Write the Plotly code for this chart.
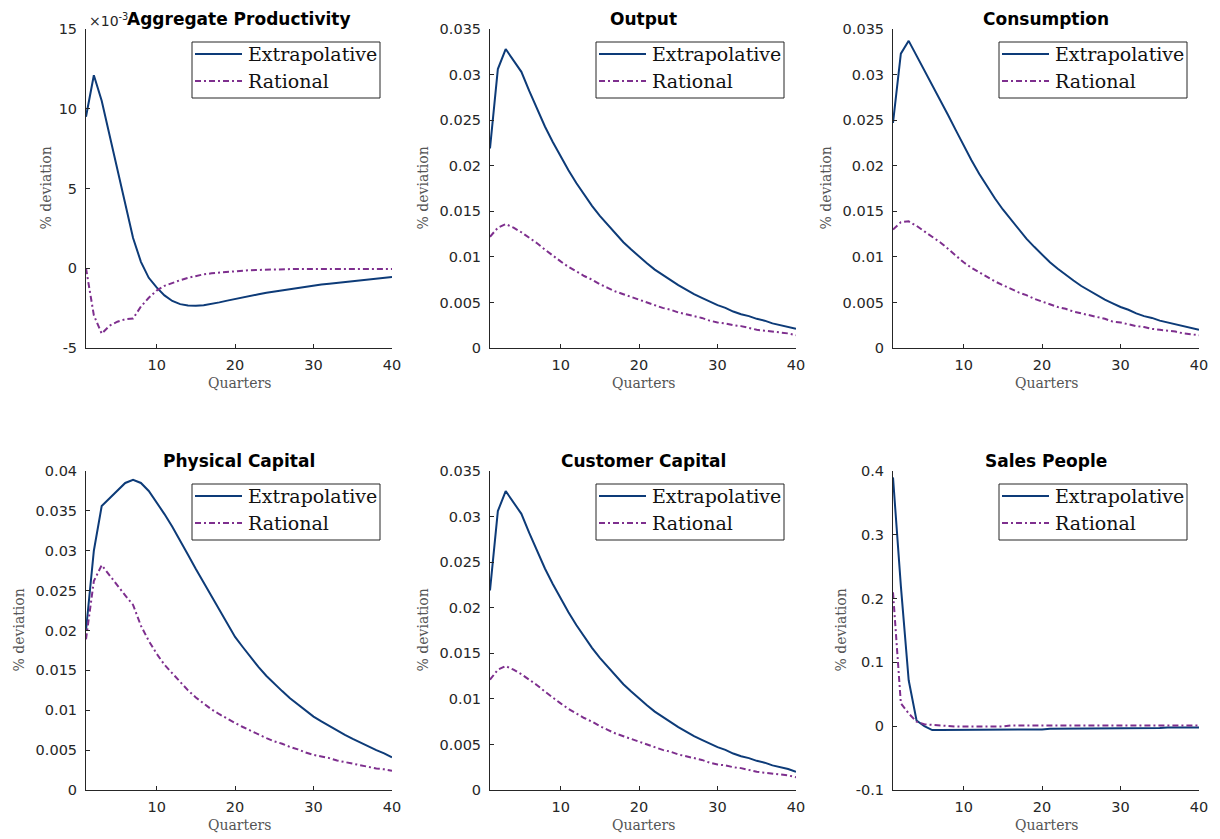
import plotly.graph_objects as go

# ---------------- data ----------------
quarters = list(range(1, 41))

titles = ["Aggregate Productivity", "Output", "Consumption",
          "Physical Capital", "Customer Capital", "Sales People"]
series_names = ["Extrapolative", "Rational"]

# Aggregate productivity, in units of 1e-3
prod_extrap = [9.5, 12.1, 10.5, 8.4, 6.2, 4.0, 1.9, 0.4, -0.6, -1.2,
               -1.7, -2.05, -2.25, -2.33, -2.35, -2.32, -2.24, -2.14, -2.03, -1.92,
               -1.82, -1.72, -1.63, -1.54, -1.46, -1.38, -1.31, -1.24, -1.17, -1.08,
               -1.02, -0.97, -0.92, -0.86, -0.81, -0.76, -0.71, -0.66, -0.6, -0.55]
prod_rational = [0.0, -2.95, -4.1, -3.6, -3.35, -3.2, -3.15, -2.4, -1.85, -1.4,
                 -1.1, -0.9, -0.75, -0.6, -0.48, -0.38, -0.32, -0.27, -0.22, -0.18,
                 -0.15, -0.12, -0.1, -0.08, -0.06, -0.05, -0.04, -0.04, -0.04, -0.04,
                 -0.04, -0.04, -0.04, -0.04, -0.04, -0.04, -0.04, -0.04, -0.04, -0.04]

output_extrap = [0.0219, 0.0306, 0.0328, 0.0316, 0.0303, 0.0282, 0.0262, 0.0243, 0.0226, 0.0210,
                 0.0195, 0.0181, 0.0168, 0.0156, 0.0145, 0.0135, 0.0125, 0.0116, 0.0108, 0.0100,
                 0.0093, 0.0086, 0.0080, 0.0074, 0.0069, 0.0064, 0.0059, 0.0055, 0.0051, 0.0047,
                 0.0044, 0.0040, 0.0037, 0.0035, 0.0032, 0.0030, 0.0027, 0.0025, 0.0023, 0.0021]
output_rational = [0.0122, 0.0132, 0.0136, 0.0132, 0.0127, 0.0121, 0.0115, 0.0108, 0.0101, 0.0095,
                   0.0089, 0.0084, 0.0079, 0.0075, 0.0070, 0.0066, 0.0062, 0.0059, 0.0056, 0.0053,
                   0.0050, 0.0047, 0.0044, 0.0042, 0.0039, 0.0037, 0.0035, 0.0033, 0.0030, 0.0028,
                   0.0027, 0.0025, 0.0024, 0.0022, 0.0020, 0.0019, 0.0018, 0.0017, 0.0016, 0.0014]

cons_extrap = [0.0247, 0.0323, 0.0337, 0.0321, 0.0305, 0.0289, 0.0272, 0.0256, 0.0239, 0.0222,
               0.0206, 0.0191, 0.0177, 0.0164, 0.0152, 0.0141, 0.0130, 0.0120, 0.0111, 0.0102,
               0.0094, 0.0087, 0.0080, 0.0074, 0.0068, 0.0063, 0.0058, 0.0053, 0.0049, 0.0045,
               0.0042, 0.0038, 0.0035, 0.0033, 0.0030, 0.0028, 0.0026, 0.0024, 0.0022, 0.0020]
cons_rational = [0.0130, 0.0138, 0.0139, 0.0134, 0.0128, 0.0122, 0.0116, 0.0109, 0.0101, 0.0094,
                 0.0088, 0.0083, 0.0078, 0.0073, 0.0069, 0.0065, 0.0061, 0.0058, 0.0054, 0.0051,
                 0.0048, 0.0045, 0.0043, 0.0040, 0.0038, 0.0036, 0.0034, 0.0032, 0.0029, 0.0028,
                 0.0026, 0.0024, 0.0023, 0.0021, 0.0020, 0.0019, 0.0018, 0.0016, 0.0015, 0.0014]

phys_extrap = [0.0200, 0.0300, 0.0356, 0.0366, 0.0376, 0.0385, 0.0389, 0.0385, 0.0375, 0.0361,
               0.0346, 0.0330, 0.0313, 0.0295, 0.0277, 0.0260, 0.0242, 0.0225, 0.0208, 0.0192,
               0.0179, 0.0166, 0.0154, 0.0143, 0.0133, 0.0124, 0.0115, 0.0107, 0.0099, 0.0092,
               0.0086, 0.0080, 0.0074, 0.0069, 0.0064, 0.0059, 0.0055, 0.0050, 0.0046, 0.0041]
phys_rational = [0.0189, 0.0262, 0.0282, 0.0269, 0.0256, 0.0244, 0.0232, 0.0206, 0.0187, 0.0171,
                 0.0157, 0.0146, 0.0135, 0.0125, 0.0116, 0.0108, 0.0101, 0.0095, 0.0089, 0.0084,
                 0.0079, 0.0074, 0.0069, 0.0065, 0.0061, 0.0058, 0.0054, 0.0051, 0.0047, 0.0044,
                 0.0042, 0.0040, 0.0037, 0.0035, 0.0033, 0.0031, 0.0029, 0.0027, 0.0026, 0.0024]

cust_extrap = [0.0219, 0.0306, 0.0328, 0.0316, 0.0303, 0.0282, 0.0262, 0.0243, 0.0226, 0.0210,
               0.0195, 0.0181, 0.0168, 0.0156, 0.0145, 0.0135, 0.0125, 0.0116, 0.0108, 0.0100,
               0.0093, 0.0086, 0.0080, 0.0074, 0.0069, 0.0064, 0.0059, 0.0055, 0.0051, 0.0047,
               0.0044, 0.0040, 0.0037, 0.0035, 0.0032, 0.0030, 0.0027, 0.0025, 0.0023, 0.0020]
cust_rational = [0.0121, 0.0132, 0.0136, 0.0132, 0.0127, 0.0121, 0.0115, 0.0108, 0.0101, 0.0095,
                 0.0089, 0.0084, 0.0079, 0.0075, 0.0070, 0.0066, 0.0062, 0.0059, 0.0056, 0.0053,
                 0.0050, 0.0047, 0.0044, 0.0042, 0.0039, 0.0037, 0.0035, 0.0033, 0.0030, 0.0028,
                 0.0027, 0.0025, 0.0024, 0.0022, 0.0020, 0.0019, 0.0018, 0.0017, 0.0016, 0.0014]

sales_extrap = [0.390, 0.220, 0.072, 0.009, 0.000, -0.006, -0.006, -0.006, -0.006, -0.006,
                -0.006, -0.006, -0.006, -0.006, -0.006, -0.005, -0.005, -0.005, -0.005, -0.005,
                -0.004, -0.004, -0.004, -0.004, -0.004, -0.004, -0.004, -0.004, -0.003, -0.003,
                -0.003, -0.003, -0.003, -0.003, -0.003, -0.002, -0.002, -0.002, -0.002, -0.002]
sales_rational = [0.210, 0.036, 0.020, 0.007, 0.003, 0.002, 0.001, -0.0005, -0.0005, -0.0005,
                  -0.0005, -0.0005, -0.0005, -0.0005, -0.0005, 0.001, 0.001, 0.001, 0.001, 0.001,
                  0.001, 0.001, 0.001, 0.001, 0.001, 0.001, 0.001, 0.001, 0.001, 0.001,
                  0.001, 0.001, 0.001, 0.001, 0.001, 0.001, 0.001, 0.001, 0.001, 0.001]

x_ticks = [10, 20, 30, 40]
y_ticks = [
    [-5, 0, 5, 10, 15],
    [0, 0.005, 0.01, 0.015, 0.02, 0.025, 0.03, 0.035],
    [0, 0.005, 0.01, 0.015, 0.02, 0.025, 0.03, 0.035],
    [0, 0.005, 0.01, 0.015, 0.02, 0.025, 0.03, 0.035, 0.04],
    [0, 0.005, 0.01, 0.015, 0.02, 0.025, 0.03, 0.035],
    [-0.1, 0, 0.1, 0.2, 0.3, 0.4],
]
y_tick_text = [
    ["-5", "0", "5", "10", "15"],
    ["0", "0.005", "0.01", "0.015", "0.02", "0.025", "0.03", "0.035"],
    ["0", "0.005", "0.01", "0.015", "0.02", "0.025", "0.03", "0.035"],
    ["0", "0.005", "0.01", "0.015", "0.02", "0.025", "0.03", "0.035", "0.04"],
    ["0", "0.005", "0.01", "0.015", "0.02", "0.025", "0.03", "0.035"],
    ["-0.1", "0", "0.1", "0.2", "0.3", "0.4"],
]
y_ranges = [[-5, 15], [0, 0.035], [0, 0.035], [0, 0.04], [0, 0.035], [-0.1, 0.4]]

extrap_series = [prod_extrap, output_extrap, cons_extrap, phys_extrap, cust_extrap, sales_extrap]
rational_series = [prod_rational, output_rational, cons_rational, phys_rational, cust_rational, sales_rational]

# ---------------- layout geometry (page pixels) ----------------
PAGE_W, PAGE_H = 1220, 839
OFF = 8                       # default page body margin around the plot div
W, H = PAGE_W - OFF, PAGE_H - OFF
col_px = [(86, 392), (490, 796), (893, 1199)]
row_px = [(29, 348), (471, 790)]
ylabel_x_px = [45, 422, 825, 18, 422, 840]

BLUE = "#0d3b78"
PURPLE = "#7e2f8e"
AX = "#262626"
DASH = "6px,3px,2px,3px"


def px(xp):
    return (xp - OFF) / W


def py(yp):
    return 1 - (yp - OFF) / H


fig = go.Figure()
layout = dict(
    width=W, height=H,
    margin=dict(l=0, r=0, t=0, b=0, autoexpand=False),
    paper_bgcolor="white", plot_bgcolor="white",
    font=dict(family="DejaVu Sans", size=14, color=AX),
    showlegend=False,
)
annotations = []
shapes = []

for i in range(6):
    r, c = divmod(i, 3)
    x0, x1 = col_px[c]
    y0, y1 = row_px[r]
    sfx = "" if i == 0 else str(i + 1)
    xa, ya = "x" + sfx, "y" + sfx

    fig.add_trace(go.Scatter(x=quarters, y=extrap_series[i], mode="lines",
                             name=series_names[0], xaxis=xa, yaxis=ya,
                             line=dict(color=BLUE, width=2)))
    fig.add_trace(go.Scatter(x=quarters, y=rational_series[i], mode="lines",
                             name=series_names[1], xaxis=xa, yaxis=ya,
                             line=dict(color=PURPLE, width=2, dash=DASH)))

    layout["xaxis" + sfx] = dict(
        domain=[px(x0), px(x1)], anchor=ya, range=[1, 40],
        tickvals=x_ticks, ticktext=[str(v) for v in x_ticks],
        ticks="inside", ticklen=4, tickcolor=AX, tickwidth=1,
        showline=True, linecolor=AX, linewidth=1, mirror=False,
        showgrid=False, zeroline=False, automargin=False,
        tickfont=dict(family="DejaVu Sans", size=14.5, color=AX),
        ticklabelstandoff=4,
    )
    layout["yaxis" + sfx] = dict(
        domain=[py(y1), py(y0)], anchor=xa, range=y_ranges[i],
        tickvals=y_ticks[i], ticktext=y_tick_text[i],
        ticks="inside", ticklen=4, tickcolor=AX, tickwidth=1,
        showline=True, linecolor=AX, linewidth=1, mirror=False,
        showgrid=False, zeroline=False, automargin=False,
        tickfont=dict(family="DejaVu Sans", size=14.5, color=AX),
        ticklabelstandoff=5,
    )

    # legend box (drawn in paper space)
    bl, br = x1 - 200, x1 - 12
    bt, bb = y0 + 13, y0 + 69
    shapes.append(dict(type="rect", xref="paper", yref="paper",
                       x0=px(bl), x1=px(br), y0=py(bb), y1=py(bt),
                       line=dict(color=AX, width=1), fillcolor="white", layer="above"))
    rows = [(y0 + 25, BLUE, "solid", series_names[0]),
            (y0 + 52, PURPLE, DASH, series_names[1])]
    for ry, col, dsh, name in rows:
        shapes.append(dict(type="line", xref="paper", yref="paper",
                           x0=px(bl + 3), x1=px(bl + 50), y0=py(ry), y1=py(ry),
                           line=dict(color=col, width=2, dash=dsh), layer="above"))
        annotations.append(dict(text=name, xref="paper", yref="paper",
                                x=px(bl + 54), y=py(ry), xanchor="left", yanchor="middle",
                                showarrow=False,
                                font=dict(family="DejaVu Serif", size=19, color="#111111")))

    # title
    annotations.append(dict(text="<b>" + titles[i] + "</b>", xref="paper", yref="paper",
                            x=px((x0 + x1) / 2), y=py(y0 - 10),
                            xanchor="center", yanchor="middle", showarrow=False,
                            font=dict(family="DejaVu Sans", size=17, color="black")))
    # y label
    annotations.append(dict(text="% deviation", xref="paper", yref="paper",
                            x=px(ylabel_x_px[i]), y=py((y0 + y1) / 2),
                            xanchor="center", yanchor="middle", textangle=-90, showarrow=False,
                            font=dict(family="DejaVu Serif", size=14, color="#555555")))
    # x label
    annotations.append(dict(text="Quarters", xref="paper", yref="paper",
                            x=px((x0 + x1) / 2), y=py(y1 + 35),
                            xanchor="center", yanchor="middle", showarrow=False,
                            font=dict(family="DejaVu Serif", size=14, color="#555555")))

annotations.append(dict(text="×10<sup>-3</sup>", xref="paper", yref="paper",
                        x=px(87), y=py(20), xanchor="left", yanchor="middle",
                        showarrow=False, font=dict(family="DejaVu Sans", size=14, color=AX)))

layout["annotations"] = annotations
layout["shapes"] = shapes
fig.update_layout(**layout)
fig.write_html("out.html")
